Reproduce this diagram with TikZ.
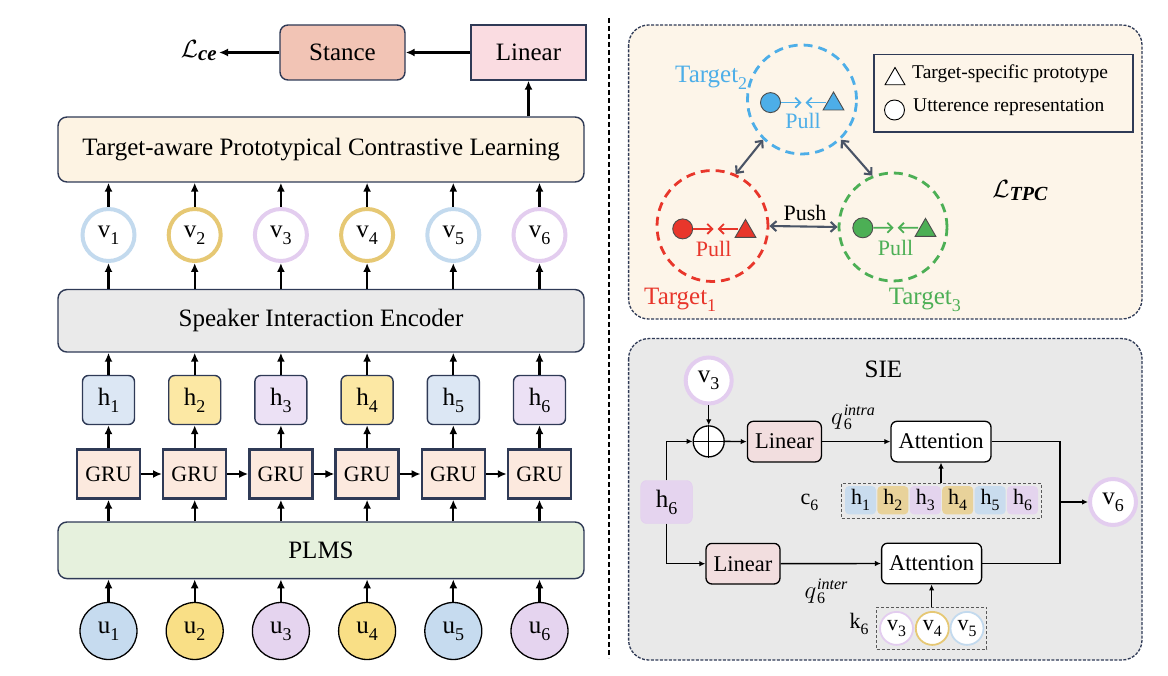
\documentclass[tikz,border=0pt]{standalone}
\usepackage{fontspec}
\setmainfont{Liberation Serif}
\usetikzlibrary{arrows.meta,shapes.geometric,calc}
\newcommand{\fsz}[1]{\fontsize{#1}{#1}\selectfont}
\newcommand{\lsub}[1]{\raisebox{-0.28em}{\scalebox{0.72}{#1}}}
\newcommand{\qlab}[1]{{\fsz{24}$q$}\kern1pt\makebox[0pt][l]{\raisebox{9pt}{\fsz{16}\textit{#1}}}\raisebox{-5pt}{\fsz{16}6}\hphantom{\fsz{16}\textit{#1}}}
\definecolor{navy}{HTML}{2F3A56}
\definecolor{stancefill}{HTML}{F2C4B5}
\definecolor{linfill}{HTML}{FADCE1}
\definecolor{tpclfill}{HTML}{FDF3E3}
\definecolor{siefill}{HTML}{EAEAEA}
\definecolor{grufill}{HTML}{FCE9DE}
\definecolor{plmsfill}{HTML}{E6F1DD}
\definecolor{ublue}{HTML}{C6DBEF}
\definecolor{uyellow}{HTML}{F9DF86}
\definecolor{upurple}{HTML}{E5D4EF}
\definecolor{vblue}{HTML}{C3DAEE}
\definecolor{vtan}{HTML}{E6C874}
\definecolor{vpurple}{HTML}{E3CDEF}
\definecolor{hblue}{HTML}{DCE7F4}
\definecolor{hyellow}{HTML}{FCE8A4}
\definecolor{hpurple}{HTML}{ECE1F5}
\definecolor{tgblue}{HTML}{4DAEE8}
\definecolor{tgred}{HTML}{E8362B}
\definecolor{tggreen}{HTML}{4CAF55}
\definecolor{arrgray}{HTML}{4A5466}
\definecolor{panelcream}{HTML}{FDF5E9}
\definecolor{panelgray}{HTML}{E9E9E9}
\definecolor{tiletan}{HTML}{E8D29A}
\definecolor{tileblue}{HTML}{C9DCEE}
\definecolor{tilepurple}{HTML}{E4D4EE}
\definecolor{sielin}{HTML}{F2DEDF}
\tikzset{
  arr/.style={-{Latex[length=9pt,width=8pt]}, line width=2.2pt},
  sarr/.style={-{Latex[length=6pt,width=5.5pt]}, line width=1.4pt},
  sline/.style={line width=1.4pt},
  lbox/.style={draw=navy, line width=1.4pt, font=\fsz{25}, inner sep=0pt},
  widebox/.style={lbox, rounded corners=9pt, minimum width=526pt},
  ucirc/.style={circle, draw=black, line width=1.3pt, minimum size=57pt, inner sep=0pt, font=\fsz{25}},
  vcirc/.style={circle, line width=4pt, fill=white, minimum size=52pt, inner sep=0pt, font=\fsz{25}},
  hbox/.style={lbox, rounded corners=6pt, minimum width=52pt, minimum height=49pt},
  grubox/.style={draw=navy, line width=2.4pt, fill=grufill, minimum width=63pt, minimum height=49pt, inner sep=0pt, font=\fsz{22}},
  tgcirc/.style={circle, dashed, dash pattern=on 9pt off 6pt, line width=2.8pt, inner sep=0pt},
  dot/.style={circle, draw=black!70, line width=0.9pt, minimum size=20pt, inner sep=0pt},
  tri/.style={regular polygon, regular polygon sides=3, draw=black!70, line width=0.9pt, minimum size=24pt, inner sep=0pt},
  pull/.style={-{Straight Barb[length=5pt,width=10pt]}, line width=1.8pt},
  dbl/.style={{Straight Barb[length=5.5pt,width=10pt]}-{Straight Barb[length=5.5pt,width=10pt]}, line width=2.1pt, draw=arrgray},
  panel/.style={draw=navy, dashed, dash pattern=on 3pt off 1.5pt, line width=1.3pt, rounded corners=20pt},
  sbox/.style={draw=black, line width=1.3pt, rounded corners=6pt, minimum width=74pt, minimum height=40.6pt, inner sep=0pt, font=\fsz{22.5}},
  tile/.style={rounded corners=4pt, minimum width=31pt, minimum height=28.3pt, inner sep=0pt, font=\fsz{22}},
  kcirc/.style={circle, line width=1.8pt, fill=white, minimum size=33pt, inner sep=0pt, font=\fsz{22}},
  gbox/.style={draw=black!65, dashed, dash pattern=on 3pt off 2pt, line width=1pt, inner sep=0pt},
}
\begin{document}
\begin{tikzpicture}[x=1pt,y=-1pt]
\useasboundingbox (0,0) rectangle (1168,676);
% ---------------- left panel ----------------
\node[lbox, fill=stancefill, rounded corners=8pt, minimum width=125pt, minimum height=55pt] (stance) at (342.5,52.5) {Stance};
\node[lbox, fill=linfill, minimum width=115pt, minimum height=55pt] (lin) at (528.5,52.5) {Linear};
\node[anchor=east, inner sep=2pt] (lce) at (219,51) {{\fsz{27}$\mathcal{L}$}\raisebox{-0.3em}{\fsz{21}\textit{\textbf{ce}}}};
\draw[arr] (lin.west) -- (stance.east);
\draw[arr] (stance.west) -- (lce.east |- stance.west);
\node[widebox, fill=tpclfill, minimum height=65pt] (tpcl) at (321,149.5) {Target-aware Prototypical Contrastive Learning};
\node[widebox, fill=siefill, minimum height=62.5pt] (sie) at (321,320.8) {Speaker Interaction Encoder};
\node[widebox, fill=plmsfill, minimum height=56.6pt] (plms) at (321,550.3) {PLMS};
\draw[arr] (tpcl.north -| lin.south) -- (lin.south);
\foreach \i/\uc/\vc/\hc in {1/ublue/vblue/hblue, 2/uyellow/vtan/hyellow, 3/upurple/vpurple/hpurple, 4/uyellow/vtan/hyellow, 5/ublue/vblue/hblue, 6/upurple/vpurple/hpurple}{
  \pgfmathsetmacro{\xx}{108.5+86.2*(\i-1)}
  \node[ucirc, fill=\uc] (u\i) at (\xx,631) {u\lsub{\i}};
  \node[grubox] (gru\i) at (\xx,474) {GRU};
  \node[hbox, fill=\hc] (h\i) at (\xx,400) {h\lsub{\i}};
  \node[vcirc, draw=\vc] (v\i) at (\xx,235) {v\lsub{\i}};
  \draw[arr] (u\i.north) -- (u\i |- plms.south);
  \draw[arr] (gru\i |- plms.north) -- (gru\i.south);
  \draw[arr] (gru\i.north) -- (h\i.south);
  \draw[arr] (h\i.north) -- (h\i |- sie.south);
  \draw[arr] (v\i |- sie.north) -- (v\i.south);
  \draw[arr] (v\i.north) -- (v\i |- tpcl.south);
}
\foreach \i [evaluate=\i as \j using int(\i+1)] in {1,...,5}{
  \draw[arr] (gru\i.east) -- (gru\j.west);
}
% separator
\draw[line width=2pt, dash pattern=on 5pt off 3pt] (609,18) -- (609,658);
% ---------------- TPC panel ----------------
\draw[panel, fill=panelcream] (628.6,25) rectangle (1142,319);
\node[tgcirc, draw=tgblue, minimum size=109pt] (c2) at (802,99.5) {};
\node[tgcirc, draw=tgred, minimum size=111pt] (c1) at (712.5,226) {};
\node[tgcirc, draw=tggreen, minimum size=108pt] (c3) at (893,227) {};
\draw[dbl] (c2.226) -- (c1.66);
\draw[dbl] (c2.314) -- (c3.112);
\draw[dbl] (c1.east) -- (c3.west);
\node[font=\fsz{22}] (push) at (805,213) {Push};
% blue group
\node[dot, fill=tgblue] (bd) at (770.5,102.6) {};
\node[tri, fill=tgblue] (bt) at (833.5,104) {};
\coordinate (bm) at ($(bd.east)!0.5!(bd.east -| bt.west)$);
\draw[pull, draw=tgblue, shorten >=2pt] (bd.east) -- (bm);
\draw[pull, draw=tgblue, shorten >=2pt] (bd.east -| bt.west) -- (bm);
\node[text=tgblue, font=\fsz{22}] (bp) at (803,121) {Pull};
\node[text=tgblue, font=\fsz{25}, anchor=base west, inner sep=0pt] (bl) at (675,83) {Target\lsub{2}};
% red group
\node[dot, fill=tgred] (rd) at (682.7,228.9) {};
\node[tri, fill=tgred] (rt) at (745.5,231.4) {};
\coordinate (rm) at ($(rd.east)!0.5!(rd.east -| rt.west)$);
\draw[pull, draw=tgred, shorten >=2pt] (rd.east) -- (rm);
\draw[pull, draw=tgred, shorten >=2pt] (rd.east -| rt.west) -- (rm);
\node[text=tgred, font=\fsz{22}] (rp) at (713.7,249) {Pull};
\node[text=tgred, font=\fsz{25}, anchor=base west, inner sep=0pt] (rl) at (644,305) {Target\lsub{1}};
% green group
\node[dot, fill=tggreen] (gd) at (862.8,227.8) {};
\node[tri, fill=tggreen] (gt) at (925.5,230.4) {};
\coordinate (gm) at ($(gd.east)!0.5!(gd.east -| gt.west)$);
\draw[pull, draw=tggreen, shorten >=2pt] (gd.east) -- (gm);
\draw[pull, draw=tggreen, shorten >=2pt] (gd.east -| gt.west) -- (gm);
\node[text=tggreen, font=\fsz{22}] (gp) at (895.5,247.8) {Pull};
\node[text=tggreen, font=\fsz{25}, anchor=base west, inner sep=0pt] (gl) at (888.6,305) {Target\lsub{3}};
% legend
\node[draw=navy, line width=1.5pt, fill=panelcream, minimum width=259pt, minimum height=77.6pt, inner sep=0pt] (legend) at (1003.5,93.2) {};
\node[tri, fill=white, draw=black, minimum size=23pt] (lt) at (895,79) {};
\node[anchor=west, font=\fsz{19.5}, inner sep=0pt] (ltt) at (912,74) {Target-specific prototype};
\node[circle, draw=black, line width=0.9pt, fill=white, minimum size=20pt, inner sep=0pt] (lc) at (894.5,110) {};
\node[anchor=west, font=\fsz{19.5}, inner sep=0pt] (lct) at (913,107) {Utterence representation};
\node (ltpc) at (1020,191) {{\fsz{27}$\mathcal{L}$}\raisebox{-0.3em}{\fsz{20}\textit{\textbf{TPC}}}};
% ---------------- SIE panel ----------------
\draw[panel, fill=panelgray] (628.6,338.6) rectangle (1142,660);
\node[font=\fsz{25}] (sietitle) at (883.4,369.6) {SIE};
\node[vcirc, draw=vpurple, minimum size=46pt] (sv3) at (708.7,380.5) {v\lsub{3}};
\node[circle, draw=black, line width=1.3pt, fill=white, minimum size=31pt, inner sep=0pt] (plus) at (708.7,441.4) {};
\draw[line width=1.3pt] (plus.north) -- (plus.south);
\draw[line width=1.3pt] (plus.west) -- (plus.east);
\node[sbox, fill=sielin] (slin1) at (784.4,441.6) {Linear};
\node[sbox, fill=white, minimum width=100pt] (att1) at (941,441.6) {Attention};
\node[inner sep=0pt] (qintra) at (857,417) {\qlab{intra}};
\node[rounded corners=6pt, fill=upurple, draw=vpurple, minimum width=51.6pt, minimum height=43pt, inner sep=0pt, font=\fsz{25}] (sh6) at (666.5,502) {h\lsub{6}};
\draw[sarr] (sv3.south) -- (plus.north);
\draw[sarr] (sh6.north) |- (plus.west);
\draw[sarr] (plus.east) -- (slin1.west);
\draw[sarr] (slin1.east) -- (att1.west);
% c6 box
\node[gbox, minimum width=199.5pt, minimum height=35pt] (cbox) at (941.3,500.8) {};
\foreach \i/\tc [evaluate=\i as \tx using 860.5+32.4*(\i-1)] in {1/tileblue,2/tiletan,3/tilepurple,4/tiletan,5/tileblue,6/tilepurple}{
  \node[tile, fill=\tc] (ct\i) at (\tx,500.2) {h\lsub{\i}};
}
\node[font=\fsz{22}] (c6) at (809.5,502) {c\lsub{6}};
\draw[sarr] (att1.south |- cbox.north) -- (att1.south);
% lower branch
\node[sbox, fill=sielin] (slin2) at (743,563.7) {Linear};
\node[sbox, fill=white, minimum width=100pt] (att2) at (931.6,563.5) {Attention};
\node[inner sep=0pt] (qinter) at (830,591) {\qlab{inter}};
\draw[sarr] (sh6.south) |- (slin2.west);
\draw[sarr] (slin2.east) -- (att2.west);
\node[gbox, minimum width=110pt, minimum height=42pt] (kbox) at (931.6,628) {};
\node[kcirc, draw=vpurple] (k3) at (896.5,628.4) {v\lsub{3}};
\node[kcirc, draw=vtan] (k4) at (932.3,628.4) {v\lsub{4}};
\node[kcirc, draw=vblue] (k5) at (967,628.4) {v\lsub{5}};
\node[font=\fsz{22}] (k6) at (859,624) {k\lsub{6}};
\draw[sarr] (att2.south |- kbox.north) -- (att2.south);
% output
\node[vcirc, draw=vpurple, minimum size=46pt] (sv6) at (1113,502) {v\lsub{6}};
\coordinate (jn) at (1060,502);
\draw[sline] (att1.east) -| (jn);
\draw[sline] (att2.east) -| (jn);
\draw[sarr] (jn) -- (sv6.west);
\end{tikzpicture}
\end{document}
